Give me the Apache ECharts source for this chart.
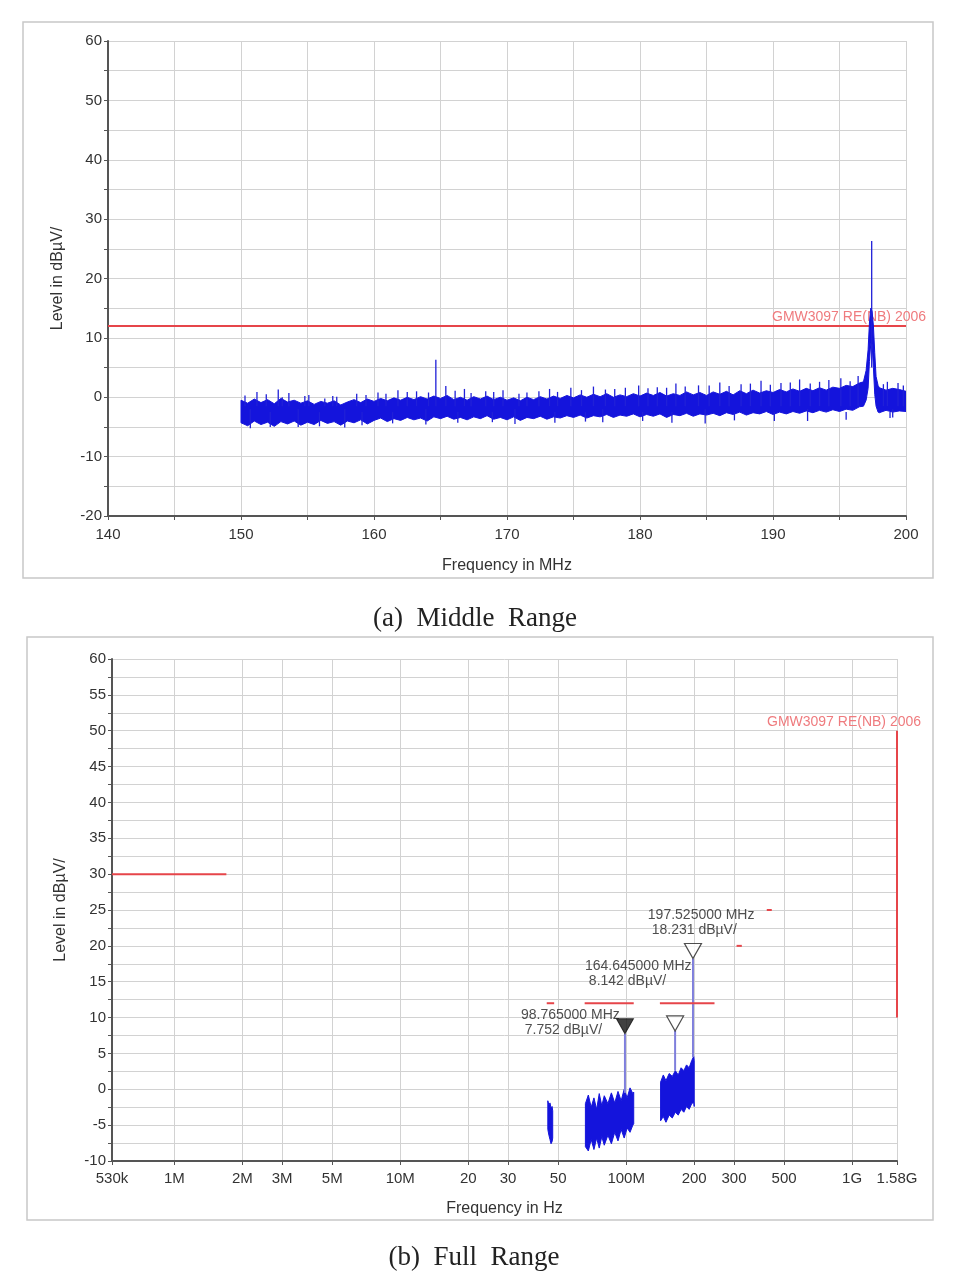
<!DOCTYPE html>
<html>
<head>
<meta charset="utf-8">
<script src="https://cdn.jsdelivr.net/npm/echarts@6/dist/echarts.min.js"></script>
<style>
  body { margin: 0; background: #fff; }
  #box { width: 968px; height: 1288px; }
</style>
</head>
<body>
<div id="box"></div>
<script>
// (a) middle range: noise band (MHz / dBuV)
const midFreq = [
  150, 150.5, 151, 151.5, 152, 152.5, 153, 153.5, 154, 154.5,
  155, 155.5, 156, 156.5, 157, 157.5, 158, 158.5, 159, 159.5,
  160, 160.5, 161, 161.5, 162, 162.5, 163, 163.5, 164, 164.5,
  165, 165.5, 166, 166.5, 167, 167.5, 168, 168.5, 169, 169.5,
  170, 170.5, 171, 171.5, 172, 172.5, 173, 173.5, 174, 174.5,
  175, 175.5, 176, 176.5, 177, 177.5, 178, 178.5, 179, 179.5,
  180, 180.5, 181, 181.5, 182, 182.5, 183, 183.5, 184, 184.5,
  185, 185.5, 186, 186.5, 187, 187.5, 188, 188.5, 189, 189.5,
  190, 190.5, 191, 191.5, 192, 192.5, 193, 193.5, 194, 194.5,
  195, 195.5, 196, 196.5,
  196.8, 197.0, 197.15, 197.25, 197.35, 197.45, 197.55, 197.65, 197.75, 197.9,
  198.0, 198.5, 199.0, 199.5, 200.0
];
const midUpper = [
  -0.5, -1.0, -0.3, -0.9, -0.4, -1.1, -0.2, -0.8, -0.5, -1.0,
  -0.6, -1.2, -0.7, -1.0, -0.6, -1.3, -0.8, -0.4, -0.9, -0.3,
  -0.7, -0.2, -0.6, -0.1, -0.5, 0.0, -0.4, 0.1, -0.3, 0.2,
  -0.2, 0.3, -0.4, 0.0, -0.5, 0.1, -0.3, 0.2, -0.4, 0.0,
  -0.5, -0.1, -0.6, 0.0, -0.4, 0.1, -0.3, 0.2, -0.2, 0.3,
  -0.1, 0.4, 0.0, 0.5, 0.1, 0.6, 0.0, 0.4, 0.1, 0.6,
  0.2, 0.7, 0.3, 0.8, 0.2, 0.6, 0.3, 0.9, 0.4, 0.8,
  0.3, 0.9, 0.5, 1.0, 0.4, 1.1, 0.6, 1.2, 0.7, 1.1,
  0.8, 1.3, 0.9, 1.4, 1.0, 1.5, 1.1, 1.6, 1.2, 1.7,
  1.5, 2.0, 1.8, 2.4,
  2.6, 4.5, 8.0, 12.5, 15.0, 14.5, 12.0, 7.5, 3.5, 2.0,
  1.6, 1.2, 1.5, 1.3, 1.0
];
const midLower = [
  -4.3, -4.8, -4.0, -4.6, -4.2, -4.9, -4.1, -4.5, -4.0, -4.7,
  -4.2, -4.6, -3.9, -4.4, -4.1, -4.7, -4.0, -4.3, -3.8, -4.5,
  -3.9, -3.5, -4.1, -3.6, -3.9, -3.4, -3.8, -3.5, -4.0, -3.3,
  -3.6, -3.2, -3.7, -3.4, -3.8, -3.3, -3.6, -3.1, -3.7, -3.4,
  -3.8, -3.3, -3.9, -3.4, -3.6, -3.2, -3.7, -3.3, -3.5, -3.1,
  -3.4, -3.0, -3.5, -3.1, -3.3, -2.9, -3.4, -3.0, -3.2, -2.8,
  -3.3, -2.9, -3.2, -2.8, -3.4, -2.9, -3.1, -2.7, -3.2, -2.8,
  -3.0, -2.7, -3.1, -2.6, -2.9, -2.5, -3.0, -2.6, -2.8, -2.4,
  -2.9, -2.5, -2.8, -2.4, -2.7, -2.3, -2.6, -2.2, -2.5, -2.1,
  -2.4, -2.0, -2.2, -1.6,
  -1.5, -0.5, 1.5, 6.0, 9.0, 9.0, 5.0, 0.5, -1.5, -2.5,
  -2.6, -2.2, -2.5, -2.3, -2.4
];
// single spikes sticking out of the band (freq, bottom, top)
const midSpikeFreq = [
  151.2, 152.8, 153.6, 155.1, 156.9, 158.7, 160.3, 161.8, 163.2, 164.65,
  165.4, 166.8, 168.4, 169.7, 171.5, 173.2, 174.8, 176.5, 178.1, 179.9,
  181.3, 182.7, 184.4, 186.0, 187.6, 189.1, 190.6, 192.0, 193.5, 195.1,
  196.4, 197.42, 198.6, 199.4,
  150.3, 151.9, 153.1, 154.8, 156.3, 157.2, 159.4, 160.9, 162.5, 164.1,
  166.1, 167.3, 169.0, 170.9, 172.4, 173.8, 175.6, 177.4, 178.9, 180.6,
  182.0, 183.4, 185.2, 186.7, 188.3, 189.8, 191.3, 192.8, 194.2, 195.8,
  198.3, 199.8,
  150.7, 154.3, 157.8, 163.9, 170.6, 177.2, 184.9, 192.6, 199.0,
  152.2, 155.9, 159.1, 161.4, 166.3, 168.9, 173.6, 175.9, 180.2, 182.4,
  187.1, 190.1, 195.5, 198.8
];
const midSpikeLow = [
  -1.5, -1.5, -1.5, -1.5, -1.5, -1.5, -1.5, -1.5, -1.5, -1.5,
  -1.5, -1.5, -1.5, -1.5, -1.5, -1.5, -1.5, -1.5, -1.5, -1.5,
  -1.5, -1.5, -1.5, -1.5, -1.5, -1.5, -1.5, -1.5, -1.5, -1.5,
  -1.5, 5.0, -1.5, -1.5,
  -1.5, -1.5, -1.5, -1.5, -1.5, -1.5, -1.5, -1.5, -1.5, -1.5,
  -1.5, -1.5, -1.5, -1.5, -1.5, -1.5, -1.5, -1.5, -1.5, -1.5,
  -1.5, -1.5, -1.5, -1.5, -1.5, -1.5, -1.5, -1.5, -1.5, -1.5,
  -1.5, -1.5,
  -5.2, -5.0, -5.1, -4.6, -4.5, -4.2, -4.4, -4.0, -3.4,
  -5.0, -4.9, -4.7, -4.4, -4.3, -4.2, -4.3, -4.1, -4.0, -4.3,
  -3.9, -4.0, -3.8, -3.5
];
const midSpikeHigh = [
  0.9, 1.3, 0.7, 0.4, 0.2, 0.6, 0.8, 1.2, 1.0, 6.3,
  1.9, 1.4, 1.0, 1.2, 0.8, 1.4, 1.6, 1.8, 1.4, 2.0,
  1.7, 2.3, 2.0, 2.5, 2.2, 2.8, 2.4, 3.0, 2.6, 3.2,
  3.6, 26.3, 2.6, 2.4,
  0.3, 0.5, 0.0, 0.2, -0.2, 0.1, 0.4, 0.6, 0.9, 0.8,
  1.1, 0.7, 0.9, 0.6, 1.0, 0.9, 1.2, 1.3, 1.6, 1.5,
  1.6, 1.8, 2.0, 1.9, 2.3, 2.1, 2.5, 2.3, 2.9, 2.7,
  2.2, 2.0,
  -2.0, -2.0, -2.0, -2.0, -2.0, -2.0, -2.0, -2.0, -2.0,
  -2.5, -2.5, -2.5, -2.5, -2.5, -2.5, -2.5, -2.5, -2.5, -2.5,
  -2.5, -2.5, -2.5, -2.5
];
const midLimitFreq = [140, 200];
const midLimitLevel = [12, 12];

// (b) full range (MHz / dBuV)
const fullBand1Freq = [45.0, 45.5, 46.0, 46.5, 47.0, 47.3];
const fullBand1Upper = [-1.6, -2.2, -1.9, -2.6, -2.4, -3.0];
const fullBand1Lower = [-5.6, -6.4, -7.0, -7.6, -7.3, -6.8];
const fullBand2Freq = [66, 68, 70, 72, 74, 76, 78, 80, 83, 86, 89, 92, 95, 98, 101, 104, 107, 108];
const fullBand2Upper = [-2.0, -0.8, -2.5, -1.2, -2.8, -0.6, -2.3, -0.9, -2.0, -0.5, -1.9, -0.3, -1.6, 0.0, -1.2, 0.2, -0.6, -0.4];
const fullBand2Lower = [-8.0, -8.6, -7.0, -8.4, -6.8, -8.2, -6.6, -7.8, -6.4, -7.6, -6.0, -7.2, -5.6, -6.8, -5.4, -6.0, -5.0, -4.8];
const fullBand3Freq = [142, 146, 150, 155, 160, 165, 170, 175, 180, 185, 190, 195, 199, 200];
const fullBand3Upper = [1.0, 2.0, 1.2, 2.2, 1.8, 2.6, 2.0, 3.0, 2.6, 3.4, 3.0, 4.0, 4.6, 4.0];
const fullBand3Lower = [-4.4, -3.8, -4.6, -3.6, -4.0, -3.2, -3.6, -2.8, -3.2, -2.4, -2.8, -2.0, -1.8, -2.4];

const markerFreq = [98.765, 164.645, 197.525];
const markerLevel = [7.752, 8.142, 18.231];
const markerStemBase = [-0.5, 2.6, 4.5];

const limitStartMHz = [0.53, 44.5, 65.5, 141, 308, 419, 1580];
const limitEndMHz = [1.7, 48, 108, 246, 325, 441, 1580];
const limitStartLevel = [30, 12, 12, 12, 20, 25, 10];
const limitEndLevel = [30, 12, 12, 12, 20, 25, 50];

const fullTickMHz = [0.53, 1, 2, 3, 5, 10, 20, 30, 50, 100, 200, 300, 500, 1000, 1580];
const fullTickLabels = ['530k', '1M', '2M', '3M', '5M', '10M', '20', '30', '50', '100M', '200', '300', '500', '1G', '1.58G'];

const FONT = 'Liberation Sans';
const BLUE = '#1414dc';
const RED = '#e6454a';
const toLog = (f) => Math.log10(f * 1e6);

let myChart = echarts.init(document.getElementById('box'));

// filled noise band: upper edge forward, lower edge back
function bandSeries(gi, xs, ups, lows) {
  return {
    type: 'custom', xAxisIndex: gi, yAxisIndex: gi, clip: true, silent: true, z: 3,
    data: xs.map((x, i) => [x, ups[i], lows[i]]),
    renderItem: function (params, api) {
      if (params.dataIndex !== 0) return null;
      const top = xs.map((x, i) => api.coord([x, ups[i]]));
      const bot = xs.map((x, i) => api.coord([x, lows[i]])).reverse();
      return {
        type: 'polygon',
        shape: { points: top.concat(bot) },
        style: { fill: BLUE, stroke: BLUE, lineWidth: 1 }
      };
    }
  };
}

// vertical strokes from low to high
function stickSeries(gi, xs, lows, highs, color, width) {
  return {
    type: 'custom', xAxisIndex: gi, yAxisIndex: gi, clip: true, silent: true, z: 4,
    data: xs.map((x, i) => [x, lows[i], highs[i]]),
    renderItem: function (params, api) {
      const a = api.coord([api.value(0), api.value(1)]);
      const b = api.coord([api.value(0), api.value(2)]);
      return {
        type: 'line',
        shape: { x1: a[0], y1: a[1], x2: b[0], y2: b[1] },
        style: { stroke: color, lineWidth: width }
      };
    }
  };
}

const axisText = { fontFamily: FONT, fontSize: 15, color: '#333' };
const nameText = { fontFamily: FONT, fontSize: 16, color: '#333' };
const axisLine = { show: true, onZero: false, lineStyle: { color: '#555', width: 2 } };
const gridLine = { show: true, lineStyle: { color: '#d2d2d2', width: 1 } };
const tick = { show: true, length: 4, lineStyle: { color: '#555' } };

const labelPos = [[-95, -11], [-81, -57], [-36, -35]];
const markerData = markerFreq.map((f, i) => ({
  value: [toLog(f), markerLevel[i]],
  itemStyle: i === 0
    ? { color: '#111', borderColor: '#111', borderWidth: 1 }
    : { color: '#fff', borderColor: '#222', borderWidth: 1.2 },
  label: {
    show: true,
    position: labelPos[i],
    align: 'left',
    formatter: f.toFixed(6) + ' MHz\n ' + markerLevel[i].toFixed(3) + ' dB\u00b5V/',
    fontFamily: FONT, fontSize: 14, color: '#222', lineHeight: 15
  }
}));

const limitSeries = limitStartMHz.map((f, i) => ({
  type: 'line', xAxisIndex: 1, yAxisIndex: 1, showSymbol: false, silent: true, z: 5,
  lineStyle: { color: RED, width: 2 },
  data: [[toLog(f), limitStartLevel[i]], [toLog(limitEndMHz[i]), limitEndLevel[i]]],
  endLabel: i === limitStartMHz.length - 1 ? {
    show: true, formatter: 'GMW3097 RE(NB) 2006', offset: [-138, -9],
    fontFamily: FONT, fontSize: 14, color: '#ef7b7e'
  } : { show: false }
}));

let option = {
  animation: false,
  backgroundColor: '#fff',
  graphic: [
    { type: 'rect', shape: { x: 23, y: 22, width: 910, height: 556 }, style: { fill: 'none', stroke: '#c8c8c8', lineWidth: 1.5 }, z: -10 },
    { type: 'rect', shape: { x: 27, y: 637, width: 906, height: 583 }, style: { fill: 'none', stroke: '#c8c8c8', lineWidth: 1.5 }, z: -10 },
    { type: 'text', x: 475, y: 619, style: { text: '(a)  Middle  Range', font: '27px "Liberation Serif"', fill: '#222', align: 'center', verticalAlign: 'middle' } },
    { type: 'text', x: 474, y: 1258, style: { text: '(b)  Full  Range', font: '27px "Liberation Serif"', fill: '#222', align: 'center', verticalAlign: 'middle' } }
  ],
  grid: [
    { left: 108, right: 62, top: 41, bottom: 772 },
    { left: 112, right: 71, top: 659, bottom: 127 }
  ],
  xAxis: [
    {
      type: 'value', gridIndex: 0, min: 140, max: 200, interval: 5,
      name: 'Frequency in MHz', nameLocation: 'middle', nameGap: 42, nameTextStyle: nameText,
      axisLine: axisLine, axisTick: tick, splitLine: gridLine,
      axisLabel: Object.assign({ margin: 11, formatter: (v) => (v % 10 === 0 ? v : '') }, axisText)
    },
    {
      type: 'value', gridIndex: 1, min: toLog(0.53), max: toLog(1580),
      name: 'Frequency in Hz', nameLocation: 'middle', nameGap: 40, nameTextStyle: nameText,
      axisLine: axisLine, splitLine: gridLine,
      axisTick: Object.assign({ customValues: fullTickMHz.map(toLog) }, tick),
      axisLabel: Object.assign({
        margin: 10,
        customValues: fullTickMHz.map(toLog),
        formatter: function (v) {
          let best = 0;
          fullTickMHz.forEach((f, i) => {
            if (Math.abs(toLog(f) - v) < Math.abs(toLog(fullTickMHz[best]) - v)) best = i;
          });
          return fullTickLabels[best];
        }
      }, axisText)
    }
  ],
  yAxis: [
    {
      type: 'value', gridIndex: 0, min: -20, max: 60, interval: 5,
      name: 'Level in dB\u00b5V/', nameLocation: 'middle', nameGap: 42, nameTextStyle: nameText,
      axisLine: axisLine, axisTick: tick, splitLine: gridLine,
      axisLabel: Object.assign({ margin: 6, formatter: (v) => (v % 10 === 0 ? v : '') }, axisText)
    },
    {
      type: 'value', gridIndex: 1, min: -10, max: 60, interval: 2.5,
      name: 'Level in dB\u00b5V/', nameLocation: 'middle', nameGap: 43, nameTextStyle: nameText,
      axisLine: axisLine, axisTick: tick, splitLine: gridLine,
      axisLabel: Object.assign({ margin: 6, formatter: (v) => (v % 5 === 0 ? v : '') }, axisText)
    }
  ],
  series: [
    bandSeries(0, midFreq, midUpper, midLower),
    stickSeries(0, midSpikeFreq, midSpikeLow, midSpikeHigh, '#2020d8', 1.3),
    {
      type: 'line', xAxisIndex: 0, yAxisIndex: 0, showSymbol: false, silent: true, z: 2,
      lineStyle: { color: RED, width: 2 },
      data: midLimitFreq.map((f, i) => [f, midLimitLevel[i]]),
      endLabel: {
        show: true, formatter: 'GMW3097 RE(NB) 2006', offset: [-142, -9],
        fontFamily: FONT, fontSize: 14, color: '#ef7b7e'
      }
    },
    bandSeries(1, fullBand1Freq.map(toLog), fullBand1Upper, fullBand1Lower),
    bandSeries(1, fullBand2Freq.map(toLog), fullBand2Upper, fullBand2Lower),
    bandSeries(1, fullBand3Freq.map(toLog), fullBand3Upper, fullBand3Lower),
    stickSeries(1, markerFreq.map(toLog), markerStemBase, markerLevel, '#7f7fdc', 2)
  ].concat(limitSeries).concat([
    {
      type: 'scatter', xAxisIndex: 1, yAxisIndex: 1, z: 6,
      symbol: 'triangle', symbolRotate: 180, symbolSize: [17, 15], symbolOffset: [0, -7.5],
      data: markerData
    }
  ])
};

option && myChart.setOption(option);
</script>
</body>
</html>
